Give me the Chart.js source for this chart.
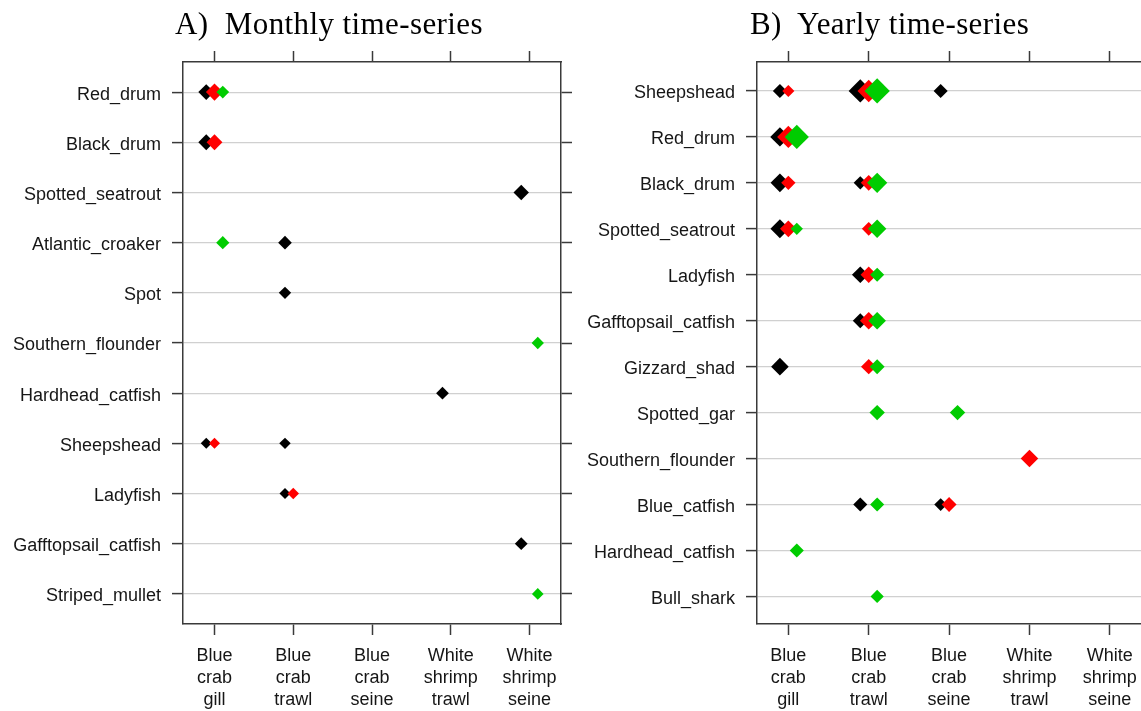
<!DOCTYPE html>
<html lang="en">
<head>
    <meta charset="UTF-8">
    <meta name="viewport" content="width=device-width, initial-scale=1.0">
    <title>Monthly and yearly time-series</title>
    <script src="https://cdn.jsdelivr.net/npm/chart.js"></script>
    <style>
        html, body {
            margin: 0;
            padding: 0;
            background-color: #ffffff;
            overflow: hidden;
        }
        #page {
            position: relative;
            width: 1141px;
            height: 711px;
            overflow: hidden;
        }
        .panel {
            position: absolute;
            top: 0;
            width: 580px;
            height: 711px;
        }
        .title {
            position: absolute;
            top: 8px;
            z-index: 2;
            font-family: "Liberation Serif", "Times New Roman", serif;
            font-size: 31px;
            line-height: 31px;
            letter-spacing: 0.4px;
            white-space: pre;
            color: #000;
        }
    </style>
</head>
<body>
    <div id="page">
        <div class="panel" style="left: 0px;"><canvas id="monthlyChart"></canvas></div>
        <div class="panel" style="left: 576px;"><canvas id="yearlyChart"></canvas></div>
        <div class="title" style="left: 175px;">A)  Monthly time-series</div>
        <div class="title" style="left: 750px;">B)  Yearly time-series</div>
    </div>

    <script>
        // Categories
        const gears = ['Blue crab gill', 'Blue crab trawl', 'Blue crab seine', 'White shrimp trawl', 'White shrimp seine'];
        const monthlySpecies = ['Red_drum', 'Black_drum', 'Spotted_seatrout', 'Atlantic_croaker', 'Spot',
            'Southern_flounder', 'Hardhead_catfish', 'Sheepshead', 'Ladyfish', 'Gafftopsail_catfish', 'Striped_mullet'];
        const yearlySpecies = ['Sheepshead', 'Red_drum', 'Black_drum', 'Spotted_seatrout', 'Ladyfish',
            'Gafftopsail_catfish', 'Gizzard_shad', 'Spotted_gar', 'Southern_flounder', 'Blue_catfish',
            'Hardhead_catfish', 'Bull_shark'];

        // Series: [species, gear, strength]  (black / red / green markers)
        const monthlyBlack = [
            ['Red_drum', 'Blue crab gill', 0.72],
            ['Black_drum', 'Blue crab gill', 0.72],
            ['Spotted_seatrout', 'White shrimp seine', 0.70],
            ['Atlantic_croaker', 'Blue crab trawl', 0.62],
            ['Spot', 'Blue crab trawl', 0.56],
            ['Hardhead_catfish', 'White shrimp trawl', 0.58],
            ['Sheepshead', 'Blue crab gill', 0.50],
            ['Sheepshead', 'Blue crab trawl', 0.52],
            ['Ladyfish', 'Blue crab trawl', 0.50],
            ['Gafftopsail_catfish', 'White shrimp seine', 0.58]
        ];
        const monthlyRed = [
            ['Red_drum', 'Blue crab gill', 0.78],
            ['Black_drum', 'Blue crab gill', 0.72],
            ['Sheepshead', 'Blue crab gill', 0.50],
            ['Ladyfish', 'Blue crab trawl', 0.52]
        ];
        const monthlyGreen = [
            ['Red_drum', 'Blue crab gill', 0.58],
            ['Atlantic_croaker', 'Blue crab gill', 0.60],
            ['Southern_flounder', 'White shrimp seine', 0.56],
            ['Striped_mullet', 'White shrimp seine', 0.53]
        ];

        const yearlyBlack = [
            ['Sheepshead', 'Blue crab gill', 0.64],
            ['Sheepshead', 'Blue crab trawl', 1.06],
            ['Sheepshead', 'Blue crab seine', 0.64],
            ['Red_drum', 'Blue crab gill', 0.88],
            ['Black_drum', 'Blue crab gill', 0.85],
            ['Black_drum', 'Blue crab trawl', 0.60],
            ['Spotted_seatrout', 'Blue crab gill', 0.86],
            ['Ladyfish', 'Blue crab trawl', 0.76],
            ['Gafftopsail_catfish', 'Blue crab trawl', 0.68],
            ['Gizzard_shad', 'Blue crab gill', 0.80],
            ['Blue_catfish', 'Blue crab trawl', 0.64],
            ['Blue_catfish', 'Blue crab seine', 0.58]
        ];
        const yearlyRed = [
            ['Sheepshead', 'Blue crab gill', 0.55],
            ['Sheepshead', 'Blue crab trawl', 1.02],
            ['Red_drum', 'Blue crab gill', 1.02],
            ['Black_drum', 'Blue crab gill', 0.65],
            ['Black_drum', 'Blue crab trawl', 0.72],
            ['Spotted_seatrout', 'Blue crab gill', 0.76],
            ['Spotted_seatrout', 'Blue crab trawl', 0.62],
            ['Ladyfish', 'Blue crab trawl', 0.74],
            ['Gafftopsail_catfish', 'Blue crab trawl', 0.80],
            ['Gizzard_shad', 'Blue crab trawl', 0.70],
            ['Southern_flounder', 'White shrimp trawl', 0.80],
            ['Blue_catfish', 'Blue crab seine', 0.68]
        ];
        const yearlyGreen = [
            ['Sheepshead', 'Blue crab trawl', 1.15],
            ['Red_drum', 'Blue crab gill', 1.10],
            ['Black_drum', 'Blue crab trawl', 0.92],
            ['Spotted_seatrout', 'Blue crab gill', 0.56],
            ['Spotted_seatrout', 'Blue crab trawl', 0.84],
            ['Ladyfish', 'Blue crab trawl', 0.64],
            ['Gafftopsail_catfish', 'Blue crab trawl', 0.80],
            ['Gizzard_shad', 'Blue crab trawl', 0.68],
            ['Spotted_gar', 'Blue crab trawl', 0.70],
            ['Spotted_gar', 'Blue crab seine', 0.70],
            ['Blue_catfish', 'Blue crab trawl', 0.64],
            ['Hardhead_catfish', 'Blue crab gill', 0.64],
            ['Bull_shark', 'Blue crab trawl', 0.60]
        ];

        const seriesColors = ['#000000', '#FF0000', '#00CC00'];
        const DODGE = 0.105;      // side-by-side shift within a gear
        const SIZE_SCALE = 11;    // strength -> marker radius
        const AXIS = '#3a3a3a';
        const GRID = '#d0d0d0';
        const tickFont = { family: '"Liberation Sans", Arial, sans-serif', size: 18, lineHeight: 1.2222 };

        function toPoints(rows, species, shift) {
            return rows.map(([sp, gear, w]) => ({
                x: gears.indexOf(gear) + 1 + shift,
                y: species.indexOf(sp) + 1,
                w: w
            }));
        }

        function wholeTicks(n) {
            return scale => {
                scale.ticks = [];
                for (let i = 1; i <= n; i++) scale.ticks.push({ value: i });
            };
        }

        function buildChart(id, species, seriesList, box) {
            const datasets = seriesList.map((rows, i) => ({
                data: toPoints(rows, species, (i - 1) * DODGE),
                showLine: false,
                pointStyle: 'rectRot',
                pointBackgroundColor: seriesColors[i],
                pointBorderWidth: 0,
                pointRadius: ctx => ctx.raw ? ctx.raw.w * SIZE_SCALE : 0,
                pointHoverRadius: ctx => ctx.raw ? ctx.raw.w * SIZE_SCALE : 0,
                order: 3 - i
            }));

            const border = { color: AXIS, width: 1.5 };
            const xBase = {
                type: 'linear',
                min: box.xMin,
                max: box.xMax,
                afterBuildTicks: wholeTicks(gears.length),
                border: border,
                grid: { drawOnChartArea: false, tickLength: 11, tickColor: AXIS, tickWidth: 1.5 }
            };
            const yBase = {
                type: 'linear',
                reverse: true,
                min: box.yMin,
                max: box.yMax,
                afterBuildTicks: wholeTicks(species.length),
                border: border
            };

            return new Chart(document.getElementById(id), {
                type: 'scatter',
                data: { datasets: datasets },
                options: {
                    responsive: true,
                    maintainAspectRatio: false,
                    animation: false,
                    events: [],
                    layout: { padding: 0 },
                    plugins: { legend: { display: false }, tooltip: { enabled: false } },
                    scales: {
                        x: Object.assign({}, xBase, {
                            position: 'bottom',
                            afterFit: s => { s.height = box.bottom; },
                            ticks: {
                                font: tickFont, color: '#161616', padding: 10,
                                maxRotation: 0, minRotation: 0, autoSkip: false,
                                callback: v => gears[v - 1].split(' ')
                            }
                        }),
                        x2: Object.assign({}, xBase, {
                            position: 'top',
                            afterFit: s => { s.height = box.top; },
                            ticks: { display: false }
                        }),
                        y: Object.assign({}, yBase, {
                            position: 'left',
                            afterFit: s => { s.width = box.left; },
                            grid: { color: GRID, lineWidth: 1.2, tickColor: AXIS, tickWidth: 1.5, tickLength: 11 },
                            ticks: {
                                font: tickFont, color: '#161616', padding: 11, autoSkip: false,
                                labelOffset: 2.5,
                                callback: v => species[v - 1]
                            }
                        }),
                        y2: Object.assign({}, yBase, {
                            position: 'right',
                            afterFit: s => { s.width = box.right; },
                            grid: { drawOnChartArea: false, tickColor: AXIS, tickWidth: 1.5, tickLength: 11 },
                            ticks: { display: false }
                        })
                    }
                }
            });
        }

        buildChart('monthlyChart', monthlySpecies, [monthlyBlack, monthlyRed, monthlyGreen],
            { xMin: 0.6, xMax: 5.4, yMin: 0.4, yMax: 11.6, left: 183, right: 19, top: 62, bottom: 87 });
        buildChart('yearlyChart', yearlySpecies, [yearlyBlack, yearlyRed, yearlyGreen],
            { xMin: 0.61, xMax: 5.4, yMin: 0.37, yMax: 12.6, left: 181, right: 14, top: 62, bottom: 87 });
    </script>
</body>
</html>
